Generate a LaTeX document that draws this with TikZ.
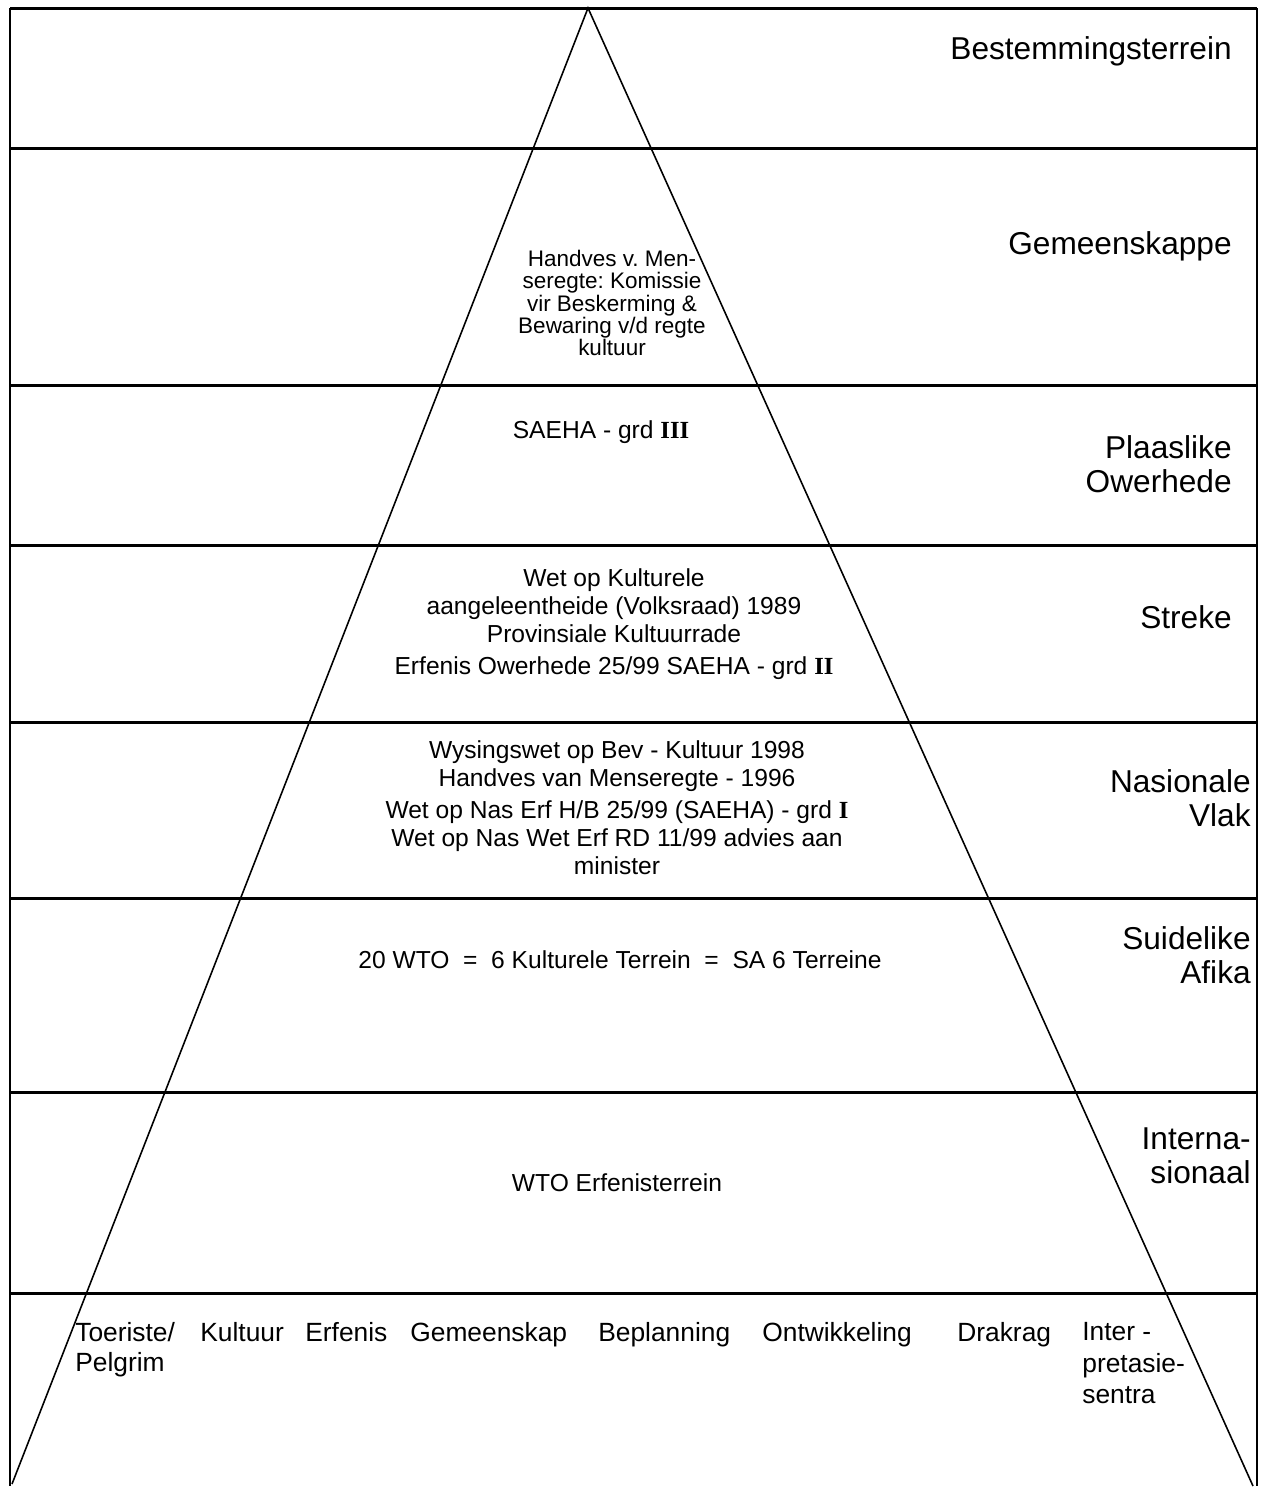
\documentclass[tikz,border=0pt]{standalone}
\usepackage{fontspec}
\setmainfont{Liberation Sans}
\newfontfamily\romfont{Liberation Serif}
\newcommand{\rn}[1]{{\romfont\bfseries #1}}
\frenchspacing

\tikzset{
	level/.style={line width=1.7pt},
	side/.style={line width=0.9pt},
	tier/.style={anchor=east, align=right, inner sep=0pt, font=\fontsize{18}{19.5}\selectfont},
	body/.style={align=center, inner sep=0pt, font=\fontsize{14}{16}\selectfont},
	item/.style={anchor=north west, align=left, inner sep=0pt, font=\fontsize{15}{17}\selectfont}
}

\begin{document}
\begin{tikzpicture}[x=0.02cm, y=-0.02cm]
	\useasboundingbox (0,0) rectangle (1261,1489);

	% frame and levels
	\coordinate (tl) at (10,8);
	\coordinate (tr) at (1257,8);
	\coordinate (bl) at (10,1486);
	\coordinate (br) at (1257,1486);
	\draw[level] (tl) -- (tr);
	\draw[line width=1.1pt] (tl) -- (bl);
	\draw[line width=1.1pt] (tr) -- (br);
	\foreach \y in {148,385,545,722,898,1092,1293}
		\draw[level] (10,\y) -- (1257,\y);

	% pyramid
	\coordinate (apex) at (588,8);
	\coordinate (baseL) at (12,1484);
	\coordinate (baseR) at (1253,1486);
	\draw[side] (baseL) -- (apex) -- (baseR);

	% tiers
	\node[tier] (bestemming) at (1232,51) {Bestemmingsterrein};
	\node[tier] (gemeenskappe) at (1232,246) {Gemeenskappe};
	\node[tier] (plaaslik) at (1232,464) {Plaaslike\\Owerhede};
	\node[tier] (streke) at (1232,617) {Streke};
	\node[tier] (nasionaal) at (1251,798) {Nasionale\\Vlak};
	\node[tier] (suidelik) at (1251,955) {Suidelike\\Afika};
	\node[tier] (internasionaal) at (1251,1156) {Interna-\\sionaal};

	% contents
	\node[body, font=\fontsize{12.8}{12.6}\selectfont] (handves) at (612,303)
		{Handves v. Men-\\seregte: Komissie\\vir Beskerming \&\\Bewaring v/d regte\\kultuur};
	\node[body] (saeha) at (601,432) {SAEHA - grd \rn{III}};
	\node[body] (kultuurwet) at (614,624)
		{Wet op Kulturele\\aangeleentheide (Volksraad) 1989\\Provinsiale Kultuurrade\\[2pt]
		 Erfenis Owerhede 25/99 SAEHA - grd \rn{II}};
	\node[body] (wysingswet) at (617,808)
		{Wysingswet op Bev - Kultuur 1998\\Handves van Menseregte - 1996\\[2pt]
		 Wet op Nas Erf H/B 25/99 (SAEHA) - grd \rn{I}\\Wet op Nas Wet Erf RD 11/99 advies aan\\minister};
	\node[body] (wto) at (620,960) {20 WTO\ \ =\ \ 6 Kulturele Terrein\ \ =\ \ SA 6 Terreine};
	\node[body] (erfenisterrein) at (617,1183) {WTO Erfenisterrein};

	% bottom row
	\node[item] (toeriste) at (75,1322) {Toeriste/\\Pelgrim};
	\node[item] (kultuur) at (200,1322) {Kultuur};
	\node[item] (erfenis) at (305,1322) {Erfenis};
	\node[item] (gemeenskap) at (410,1322) {Gemeenskap};
	\node[item] (beplanning) at (598,1322) {Beplanning};
	\node[item] (ontwikkeling) at (762,1322) {Ontwikkeling};
	\node[item] (drakrag) at (957,1322) {Drakrag};
	\node[item, font=\fontsize{15}{18}\selectfont] (interpretasie) at (1082,1322) {Inter -\\pretasie-\\sentra};
\end{tikzpicture}
\end{document}
